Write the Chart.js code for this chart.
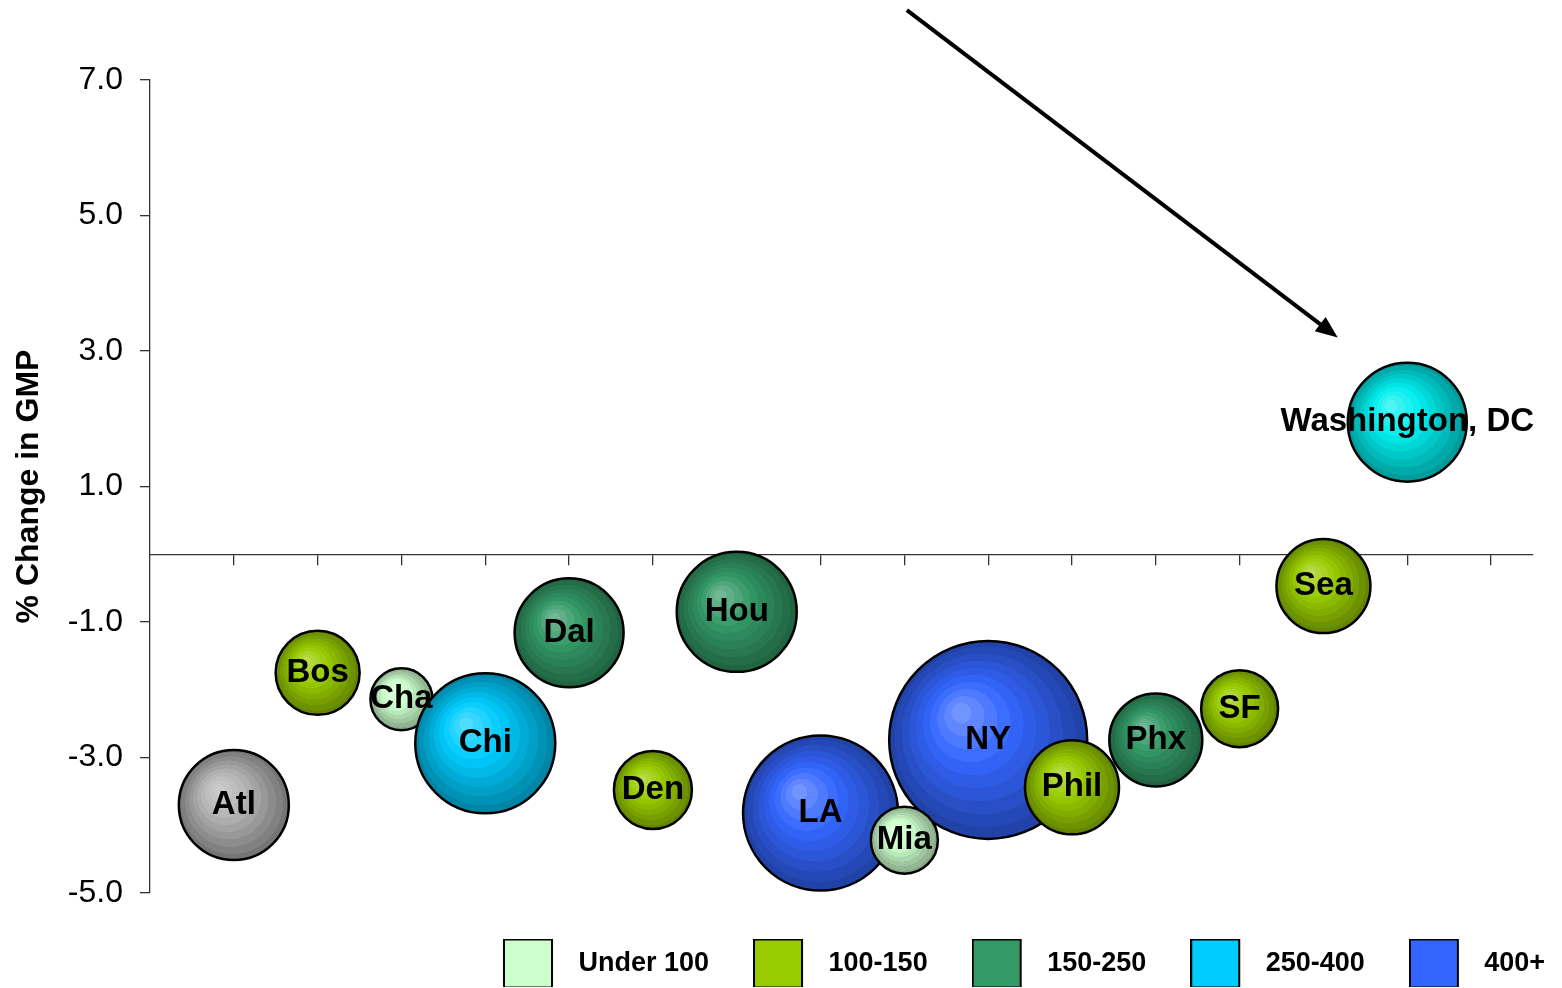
<!DOCTYPE html>
<html>
<head>
<meta charset="utf-8">
<script src="https://cdn.jsdelivr.net/npm/chart.js@4.4.1/dist/chart.umd.min.js"></script>
<style>
  html, body { margin: 0; padding: 0; background: #fff; }
  #wrap { width: 1562px; height: 988px; }
</style>
</head>
<body>
<div id="wrap"><canvas id="chart" width="1562" height="988"></canvas></div>
<script>
// Metro areas, their slot along the x axis, % change in GMP and bubble radius
const cities     = ['Atl', 'Bos', 'Cha', 'Chi', 'Dal', 'Den', 'Hou', 'LA', 'Mia', 'NY', 'Phil', 'Phx', 'SF', 'Sea', 'Washington, DC'];
const cityX      = [1, 2, 3, 4, 5, 6, 7, 8, 9, 10, 11, 12, 13, 14, 15];
const gmpChange  = [-3.70, -1.75, -2.14, -2.79, -1.16, -3.48, -0.85, -3.82, -4.22, -2.74, -3.44, -2.74, -2.28, -0.47, 1.95];
const bubbleSize = [55, 42, 31, 70, 54.5, 39, 60, 77.5, 33.5, 99, 47, 46.5, 38.5, 47, 59.5];
const cityGroup  = ['Atlanta', '100-150', 'Under 100', '250-400', '150-250', '100-150', '150-250', '400+',
                    'Under 100', '400+', '100-150', '150-250', '100-150', '100-150', 'Washington'];

// Legend bands and axis ticks
const legendBands = ['Under 100', '100-150', '150-250', '250-400', '400+'];
const yTicks = [-5, -3, -1, 1, 3, 5, 7];
const xTicks = [1, 2, 3, 4, 5, 6, 7, 8, 9, 10, 11, 12, 13, 14, 15, 16];

// Call-out arrow, in axis units
const arrowFrom = { x: 9.03, y: 8.03 };
const arrowTo   = { x: 14.17, y: 3.20 };

// Colour and stacking per group (lower order is drawn on top)
const groupStyle = {
  'Under 100':  { color: '#CCFFCC', order: 2 },
  '100-150':    { color: '#99CC00', order: 3 },
  '150-250':    { color: '#339966', order: 1 },
  '250-400':    { color: '#00CCFF', order: 0 },
  '400+':       { color: '#3366FF', order: 4 },
  'Atlanta':    { color: '#B4B4B4', order: 5 },
  'Washington': { color: '#00EEEE', order: 0 }
};

const FONT = '"Liberation Sans", Arial, Helvetica, sans-serif';
Chart.defaults.font.family = FONT;
Chart.defaults.color = '#000';

function hexToRgb(h) {
  const n = parseInt(h.slice(1), 16);
  return [(n >> 16) & 255, (n >> 8) & 255, n & 255];
}

// Banded shading: light highlight, base colour, then darker towards the rim
function shade(rgb, t) {
  let out;
  if (t < 0.4) {
    const k = 0.35 * (1 - t / 0.4);
    out = rgb.map(c => c + (255 - c) * k);
  } else {
    const k = 1 - 0.38 * ((t - 0.4) / 0.6);
    out = rgb.map(c => c * k);
  }
  return 'rgb(' + out.map(v => Math.round(v)).join(',') + ')';
}

function bubbleFill(context) {
  const base = groupStyle[context.dataset.group].color;
  if (context.type !== 'data' || !context.raw) return base;
  const chart = context.chart;
  const p = context.raw;
  const xs = chart.scales.x, ys = chart.scales.y;
  if (!xs || !ys) return base;
  const cx = xs.getPixelForValue(p.x);
  const cy = ys.getPixelForValue(p.y);
  const r = p.r;
  if (![cx, cy, r].every(Number.isFinite)) return base;
  const g = chart.ctx.createRadialGradient(cx - 0.3 * r, cy - 0.3 * r, 0, cx, cy, r + 1.5);
  const rgb = hexToRgb(base);
  const N = 10;
  for (let i = 0; i < N; i++) {
    const c = shade(rgb, (i + 0.5) / N);
    g.addColorStop(i / N, c);
    g.addColorStop((i + 1) / N - 0.0005, c);
  }
  return g;
}

// One dataset per group
const groupNames = [...legendBands, 'Atlanta', 'Washington'];
const datasets = groupNames.map(name => ({
  label: name,
  group: name,
  order: groupStyle[name].order,
  clip: false,
  data: cities.map((c, i) => ({ x: cityX[i], y: gmpChange[i], r: bubbleSize[i], name: c }))
              .filter((_, i) => cityGroup[i] === name),
  backgroundColor: bubbleFill,
  borderColor: '#000',
  borderWidth: 2.5
}));

function legendSwatch(color) {
  const cv = document.createElement('canvas');
  cv.width = 62; cv.height = 50;
  const c = cv.getContext('2d');
  c.fillStyle = color;
  c.fillRect(1, 1, 48, 48);
  c.lineWidth = 2;
  c.strokeStyle = '#000';
  c.strokeRect(1, 1, 48, 48);
  return cv;
}

// City names centred on each bubble
const bubbleLabels = {
  id: 'bubbleLabels',
  afterDatasetsDraw(chart) {
    const ctx = chart.ctx;
    ctx.save();
    ctx.font = 'bold 33px ' + FONT;
    ctx.fillStyle = '#000';
    ctx.textAlign = 'center';
    ctx.textBaseline = 'middle';
    chart.data.datasets.forEach((ds, di) => {
      chart.getDatasetMeta(di).data.forEach((el, j) => {
        ctx.fillText(ds.data[j].name, el.x, el.y);
      });
    });
    ctx.restore();
  }
};

// Arrow pointing at Washington, DC
const calloutArrow = {
  id: 'calloutArrow',
  afterDraw(chart) {
    const xs = chart.scales.x, ys = chart.scales.y;
    const x1 = xs.getPixelForValue(arrowFrom.x), y1 = ys.getPixelForValue(arrowFrom.y);
    const x2 = xs.getPixelForValue(arrowTo.x),   y2 = ys.getPixelForValue(arrowTo.y);
    const a = Math.atan2(y2 - y1, x2 - x1);
    const head = 22, half = 9;
    const bx = x2 - head * Math.cos(a), by = y2 - head * Math.sin(a);
    const ctx = chart.ctx;
    ctx.save();
    ctx.strokeStyle = '#000';
    ctx.fillStyle = '#000';
    ctx.lineWidth = 4;
    ctx.beginPath();
    ctx.moveTo(x1, y1);
    ctx.lineTo(bx + 2 * Math.cos(a), by + 2 * Math.sin(a));
    ctx.stroke();
    ctx.beginPath();
    ctx.moveTo(x2, y2);
    ctx.lineTo(bx - half * Math.sin(a), by + half * Math.cos(a));
    ctx.lineTo(bx + half * Math.sin(a), by - half * Math.cos(a));
    ctx.closePath();
    ctx.fill();
    ctx.restore();
  }
};

// Legend row sits under the right part of the plot
const legendPlacement = {
  id: 'legendPlacement',
  afterLayout(chart) {
    const lg = chart.legend;
    if (!lg) return;
    const pad = lg.options.labels.padding;
    lg.left = 503 - pad;
    lg.right = chart.width + 200;
    lg.top += 13;
    lg.bottom += 13;
  }
};

new Chart(document.getElementById('chart'), {
  type: 'bubble',
  data: { datasets },
  plugins: [bubbleLabels, calloutArrow, legendPlacement],
  options: {
    responsive: false,
    animation: false,
    events: [],
    layout: { autoPadding: false, padding: { top: 80, right: 29, bottom: 14, left: 0 } },
    scales: {
      x: {
        type: 'linear',
        position: { y: 0 },
        min: 0,
        max: 16.5,
        afterBuildTicks: s => { s.ticks = xTicks.map(v => ({ value: v })); },
        afterFit: s => { s.height = 0; },
        ticks: { display: false },
        grid: { drawOnChartArea: false, drawTicks: true, tickLength: 10, color: '#333', lineWidth: 1.3 },
        border: { display: true, color: '#333', width: 1.3 }
      },
      y: {
        type: 'linear',
        position: 'left',
        min: -5,
        max: 7,
        afterBuildTicks: s => { s.ticks = yTicks.map(v => ({ value: v })); },
        afterFit: s => { s.width = 150; },
        ticks: { callback: v => Number(v).toFixed(1), color: '#000', font: { size: 32 }, padding: 17 },
        grid: { drawOnChartArea: false, drawTicks: true, tickLength: 10, color: '#333', lineWidth: 1.3 },
        border: { display: true, color: '#333', width: 1.3 },
        title: {
          display: true,
          text: '% Change in GMP',
          color: '#000',
          font: { size: 32, weight: 'bold' },
          padding: { top: 10, bottom: 0 }
        }
      }
    },
    plugins: {
      tooltip: { enabled: false },
      legend: {
        display: true,
        position: 'bottom',
        align: 'start',
        labels: {
          usePointStyle: true,
          pointStyleWidth: 62,
          padding: 44,
          color: '#000',
          font: { size: 27, weight: 'bold' },
          generateLabels: () => legendBands.map((name, i) => ({
            text: name,
            pointStyle: legendSwatch(groupStyle[name].color),
            fillStyle: groupStyle[name].color,
            strokeStyle: '#000',
            lineWidth: 2,
            hidden: false,
            datasetIndex: i
          }))
        }
      }
    }
  }
});
</script>
</body>
</html>
